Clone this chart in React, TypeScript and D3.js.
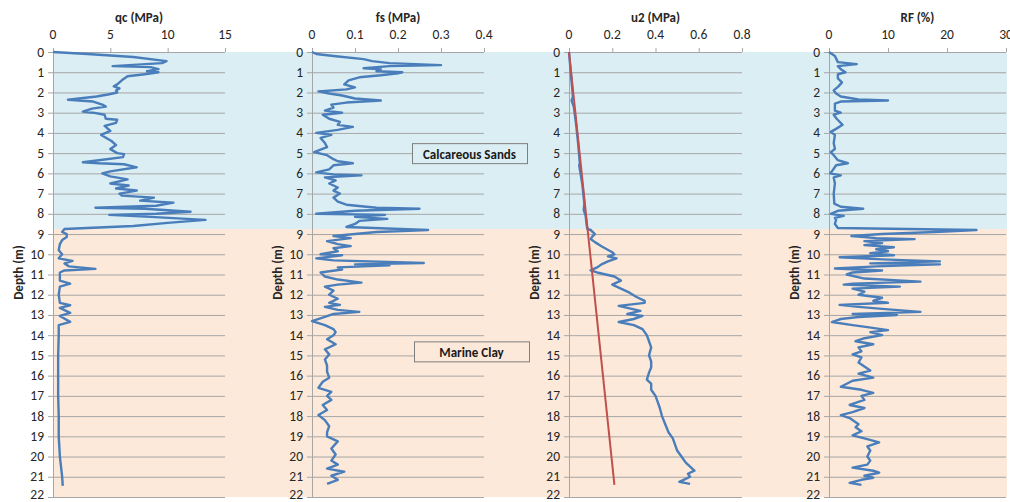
import React from 'react';
import * as d3 from 'd3';

// CPT profile (depth in m)
const qcDepth = [0, 0.1, 0.25, 0.45, 0.55, 0.7, 0.75, 0.85, 0.95, 1.0, 1.1, 1.2, 1.4, 1.6, 1.7, 1.8, 1.9, 2.0, 2.1, 2.2, 2.36, 2.45, 2.6, 2.7, 2.8, 2.95, 3.0, 3.1, 3.3, 3.35, 3.5, 3.65, 3.8, 3.9, 4.1, 4.2, 4.4, 4.6, 4.8, 5.0, 5.05, 5.2, 5.35, 5.45, 5.5, 5.55, 5.7, 5.9, 6.0, 6.15, 6.3, 6.5, 6.6, 6.75, 6.85, 7.0, 7.1, 7.2, 7.35, 7.45, 7.6, 7.7, 7.75, 7.9, 8.0, 8.05, 8.15, 8.3, 8.45, 8.6, 8.75, 8.9, 9.0, 9.15, 9.3, 9.5, 9.8, 10.0, 10.2, 10.33, 10.45, 10.6, 10.72, 10.8, 10.9, 11.3, 11.45, 11.6, 12.0, 12.4, 12.52, 12.65, 12.9, 13.05, 13.34, 13.5, 14.0, 15.0, 16.0, 17.0, 18.0, 19.0, 20.0, 21.0, 21.45];
const qcValue = [0, 3, 7, 9.9, 9.5, 5.2, 8.5, 9.2, 8.2, 9.2, 8.0, 6.5, 6.0, 5.6, 5.3, 5.8, 5.5, 5.6, 4.8, 3.8, 1.3, 3.5, 4.3, 4.6, 3.4, 2.6, 3.5, 4.5, 4.6, 5.6, 5.5, 4.5, 4.8, 5.0, 4.2, 4.5, 5.1, 5.5, 5.0, 5.6, 6.2, 6.1, 4.0, 2.6, 4.0, 6.2, 7.3, 5.0, 4.3, 5.0, 6.5, 5.0, 6.6, 5.5, 7.3, 5.8, 6.0, 8.8, 7.6, 10.5, 9.0, 3.7, 8.0, 12.0, 9.0, 4.9, 8.5, 13.3, 10.0, 7.0, 1.0, 0.8, 1.2, 1.2, 0.8, 0.6, 0.5, 0.8, 0.5, 1.7, 1.0, 1.4, 3.7, 1.0, 0.6, 0.6, 1.5, 0.6, 0.5, 0.6, 1.5, 0.6, 1.5, 0.6, 1.5, 0.5, 0.5, 0.45, 0.45, 0.45, 0.5, 0.5, 0.6, 0.8, 0.85];

const fsDepth = [0, 0.1, 0.2, 0.35, 0.45, 0.55, 0.65, 0.7, 0.8, 0.85, 0.95, 1.0, 1.05, 1.15, 1.25, 1.4, 1.6, 1.75, 1.85, 1.95, 2.05, 2.15, 2.3, 2.4, 2.5, 2.6, 2.75, 2.9, 3.0, 3.1, 3.3, 3.45, 3.6, 3.7, 3.85, 4.0, 4.1, 4.25, 4.5, 4.7, 4.95, 5.1, 5.3, 5.4, 5.5, 5.6, 5.8, 5.95, 6.05, 6.1, 6.2, 6.35, 6.5, 6.7, 6.85, 7.0, 7.2, 7.4, 7.55, 7.7, 7.75, 7.85, 8.0, 8.05, 8.15, 8.25, 8.35, 8.5, 8.65, 8.8, 8.9, 9.0, 9.1, 9.2, 9.35, 9.5, 9.6, 9.7, 9.85, 10.0, 10.05, 10.2, 10.3, 10.43, 10.5, 10.55, 10.65, 10.75, 10.9, 11.1, 11.25, 11.4, 11.5, 11.6, 11.8, 12.0, 12.2, 12.4, 12.5, 12.6, 12.75, 12.85, 12.95, 13.1, 13.3, 13.5, 13.7, 13.85, 14.0, 14.2, 14.45, 14.7, 14.95, 15.2, 15.5, 15.8, 16.1, 16.3, 16.6, 16.8, 17.0, 17.2, 17.45, 17.7, 17.95, 18.2, 18.5, 18.8, 19.0, 19.25, 19.6, 19.9, 20.2, 20.4, 20.6, 20.75, 20.95, 21.15, 21.35];
const fsValue = [0, 0.01, 0.05, 0.12, 0.14, 0.18, 0.3, 0.18, 0.12, 0.16, 0.15, 0.21, 0.2, 0.16, 0.11, 0.085, 0.075, 0.1, 0.08, 0.015, 0.04, 0.07, 0.1, 0.16, 0.08, 0.045, 0.05, 0.03, 0.07, 0.025, 0.04, 0.065, 0.06, 0.095, 0.06, 0.01, 0.045, 0.02, 0.03, 0.035, 0.005, 0.035, 0.05, 0.06, 0.095, 0.05, 0.04, 0.01, 0.05, 0.115, 0.03, 0.055, 0.04, 0.06, 0.05, 0.065, 0.05, 0.06, 0.08, 0.15, 0.25, 0.1, 0.01, 0.17, 0.1, 0.175, 0.11, 0.1, 0.08, 0.27, 0.15, 0.1, 0.05, 0.09, 0.035, 0.06, 0.09, 0.05, 0.06, 0.02, 0.07, 0.01, 0.05, 0.26, 0.1, 0.18, 0.06, 0.07, 0.02, 0.03, 0.06, 0.115, 0.06, 0.03, 0.05, 0.04, 0.06, 0.04, 0.065, 0.03, 0.06, 0.11, 0.05, 0.03, 0.0, 0.03, 0.05, 0.055, 0.05, 0.035, 0.055, 0.03, 0.04, 0.03, 0.035, 0.035, 0.04, 0.025, 0.015, 0.045, 0.035, 0.045, 0.025, 0.035, 0.015, 0.03, 0.04, 0.035, 0.035, 0.06, 0.045, 0.055, 0.045, 0.06, 0.035, 0.075, 0.045, 0.06, 0.035];

const u2Depth = [0, 1, 2.2, 2.4, 2.7, 3.5, 4.5, 5.5, 5.6, 6.5, 7.5, 7.8, 8.1, 8.5, 8.75, 8.8, 9.0, 9.1, 9.25, 9.4, 9.6, 9.9, 10.0, 10.1, 10.2, 10.35, 10.5, 10.65, 10.8, 10.9, 11.0, 11.1, 11.3, 11.5, 11.65, 11.9, 12.1, 12.3, 12.4, 12.55, 12.65, 12.8, 12.95, 13.05, 13.2, 13.35, 13.5, 13.7, 13.85, 14.0, 14.3, 14.6, 15.0, 15.3, 15.6, 15.85, 16.2, 16.4, 16.7, 17.0, 17.3, 17.6, 18.0, 18.4, 18.8, 19.1, 19.4, 19.7, 20.0, 20.3, 20.5, 20.7, 20.85, 21.0, 21.15, 21.25, 21.35];
const u2Value = [0, 0.008, 0.018, 0.012, 0.022, 0.032, 0.042, 0.05, 0.047, 0.061, 0.071, 0.068, 0.077, 0.081, 0.085, 0.1, 0.12, 0.11, 0.1, 0.12, 0.15, 0.2, 0.21, 0.18, 0.22, 0.18, 0.15, 0.13, 0.1, 0.13, 0.17, 0.21, 0.24, 0.2, 0.23, 0.28, 0.31, 0.35, 0.35, 0.23, 0.27, 0.33, 0.27, 0.34, 0.3, 0.23, 0.3, 0.34, 0.35, 0.36, 0.37, 0.38, 0.37, 0.38, 0.38, 0.37, 0.36, 0.38, 0.38, 0.4, 0.41, 0.42, 0.43, 0.445, 0.46, 0.48, 0.49, 0.5, 0.52, 0.54, 0.56, 0.58, 0.55, 0.56, 0.53, 0.51, 0.56];

// hydrostatic line
const u0Depth = [0, 21.4];
const u0Value = [0, 0.21];

const rfDepth = [0, 0.2, 0.5, 0.6, 0.7, 0.85, 1.0, 1.1, 1.3, 1.5, 1.7, 1.9, 2.05, 2.2, 2.35, 2.4, 2.45, 2.55, 2.9, 3.0, 3.1, 3.3, 3.6, 3.8, 3.95, 4.1, 4.5, 4.8, 4.95, 5.1, 5.35, 5.5, 5.6, 5.9, 6.0, 6.1, 6.2, 6.5, 7.0, 7.5, 7.65, 7.75, 7.85, 8.0, 8.1, 8.2, 8.3, 8.5, 8.7, 8.8, 8.9, 9.0, 9.1, 9.2, 9.25, 9.35, 9.45, 9.55, 9.65, 9.75, 9.85, 9.95, 10.05, 10.15, 10.25, 10.35, 10.45, 10.5, 10.6, 10.7, 10.8, 10.9, 11.0, 11.2, 11.35, 11.45, 11.5, 11.6, 11.7, 11.85, 12.0, 12.15, 12.3, 12.4, 12.5, 12.6, 12.7, 12.85, 12.95, 13.0, 13.1, 13.2, 13.35, 13.5, 13.6, 13.75, 13.85, 14.0, 14.15, 14.3, 14.45, 14.6, 14.8, 14.95, 15.1, 15.35, 15.55, 15.75, 15.9, 16.1, 16.25, 16.4, 16.55, 16.7, 16.85, 17.0, 17.2, 17.45, 17.6, 17.8, 17.95, 18.1, 18.4, 18.55, 18.75, 18.95, 19.1, 19.3, 19.5, 19.7, 20.0, 20.2, 20.4, 20.55, 20.7, 20.8, 20.95, 21.05, 21.15, 21.3, 21.4];
const rfValue = [0, 1.0, 1.5, 4.7, 1.5, 2.0, 2.8, 1.5, 1.5, 2.2, 1.6, 0.8, 1.2, 2.0, 5.0, 10.0, 2.0, 1.0, 1.0, 2.0, 0.8, 1.3, 2.3, 1.2, 0.3, 1.0, 0.8, 1.0, 0.3, 0.8, 1.5, 3.2, 1.2, 0.5, 0.2, 2.0, 0.8, 1.0, 0.8, 0.9, 2.0, 5.8, 1.5, 0.3, 2.5, 1.0, 1.2, 1.0, 1.5, 25.0, 18.0, 9.0, 3.8, 8.0, 14.5, 6.0, 9.0, 6.0, 11.0, 8.0, 10.0, 7.0, 11.0, 1.8, 9.0, 18.8, 7.0, 18.8, 8.0, 1.0, 9.0, 4.0, 3.0, 6.0, 15.5, 4.0, 2.5, 12.0, 4.0, 6.0, 5.0, 9.0, 7.5, 10.0, 1.8, 5.0, 9.0, 15.5, 4.0, 11.5, 5.0, 2.0, 0.5, 4.0, 6.5, 10.0, 7.0, 9.0, 6.0, 4.5, 7.5, 5.0, 5.5, 4.0, 5.5, 5.0, 6.0, 7.0, 5.0, 7.5, 4.0, 3.0, 2.0, 5.5, 7.5, 5.5, 6.0, 3.5, 6.0, 4.0, 2.0, 3.5, 5.0, 4.5, 5.5, 4.0, 6.0, 8.5, 6.5, 7.0, 6.5, 7.0, 6.5, 4.0, 7.5, 8.5, 6.0, 7.5, 5.5, 3.5, 5.5];

const depthTicks = d3.range(0, 23);
const sandBottom = 8.75;
const layers = [
  { name: 'Calcareous Sands', top: 0, bottom: sandBottom, fill: '#DBEEF4', labelDepth: 5.0 },
  { name: 'Marine Clay', top: sandBottom, bottom: 22, fill: '#FDE9D9', labelDepth: 14.8 },
];

const panels = [
  { title: 'qc (MPa)', left: 53, right: 225, max: 15, ticks: [0, 5, 10, 15], depth: qcDepth, value: qcValue },
  { title: 'fs (MPa)', left: 312, right: 484, max: 0.4, ticks: [0, 0.1, 0.2, 0.3, 0.4], depth: fsDepth, value: fsValue },
  { title: 'u2 (MPa)', left: 569, right: 742, max: 0.8, ticks: [0, 0.2, 0.4, 0.6, 0.8], depth: u2Depth, value: u2Value },
  { title: 'RF (%)', left: 829, right: 1006, max: 30, ticks: [0, 10, 20, 30], depth: rfDepth, value: rfValue },
];

const font = 'Calibri, Lato, "Open Sans", sans-serif';
const grid = '#A6A6A6';
const blue = '#4A7EBB';

export default function App() {
  const y = d3.scaleLinear().domain([0, 22]).range([52, 497]);
  const bandLeft = 53;
  const bandRight = 1007;

  return (
    <svg width={1010} height={502} style={{ position: 'absolute', left: 0, top: 0, background: '#fff' }} fontFamily={font}>
      {layers.map((l) => (
        <rect key={l.name} x={bandLeft} width={bandRight - bandLeft} y={y(l.top)} height={y(l.bottom) - y(l.top)} fill={l.fill} />
      ))}

      {panels.map((p, i) => {
        const x = d3.scaleLinear().domain([0, p.max]).range([p.left, p.right]);
        const line = d3.line<number>().x((d) => x(p.value[d])).y((d) => y(p.depth[d]));
        const idx = d3.range(p.depth.length);
        return (
          <g key={p.title}>
            {depthTicks.map((t) => (
              <g key={t}>
                <line x1={p.left} x2={p.right} y1={y(t) + 0.5} y2={y(t) + 0.5} stroke={grid} strokeWidth={1} />
                <line x1={p.left - 5} x2={p.left} y1={y(t) + 0.5} y2={y(t) + 0.5} stroke={grid} strokeWidth={1} />
                <text x={p.left - 9} y={t === 22 ? y(t) - 3 : y(t)} textAnchor="end" dominantBaseline="central" fontSize={13.5} fill="#262626">{t}</text>
              </g>
            ))}
            <line x1={p.left + 0.5} x2={p.left + 0.5} y1={y(0)} y2={y(22)} stroke={grid} strokeWidth={1} />
            {p.ticks.map((t) => (
              <g key={t}>
                <line x1={x(t) + 0.5} x2={x(t) + 0.5} y1={y(0) - 4} y2={y(0)} stroke={grid} strokeWidth={1} />
                <text x={x(t)} y={39} textAnchor="middle" fontSize={13.5} fill="#262626">{String(t)}</text>
              </g>
            ))}
            <text x={(p.left + p.right) / 2} y={22} textAnchor="middle" fontSize={13} fontWeight="bold" fill="#262626">{p.title}</text>
            <text transform={`translate(${p.left - 35},${y(10.9)}) rotate(-90)`} textAnchor="middle" dominantBaseline="central" fontSize={13} fontWeight="bold" fill="#262626">Depth (m)</text>
            <path d={line(idx) || ''} fill="none" stroke={blue} strokeWidth={2.4} strokeLinejoin="round" />
            {i === 2 && (
              <path
                d={d3.line<number>().x((d) => x(u0Value[d])).y((d) => y(u0Depth[d]))(d3.range(u0Depth.length)) || ''}
                fill="none" stroke="#C0504D" strokeWidth={2}
              />
            )}
          </g>
        );
      })}

      {layers.map((l, i) => {
        const bx = 412 + i * 2;
        const cy = y(l.labelDepth);
        return (
          <g key={l.name}>
            <rect x={bx + 0.5} y={cy - 10 + 0.5} width={115} height={20} fill={l.fill} stroke="#7F7F7F" strokeWidth={1} />
            <text x={bx + 57.5} y={cy + 1} textAnchor="middle" dominantBaseline="central" fontSize={13} fontWeight="bold" fill="#1a1a1a">{l.name}</text>
          </g>
        );
      })}
    </svg>
  );
}
